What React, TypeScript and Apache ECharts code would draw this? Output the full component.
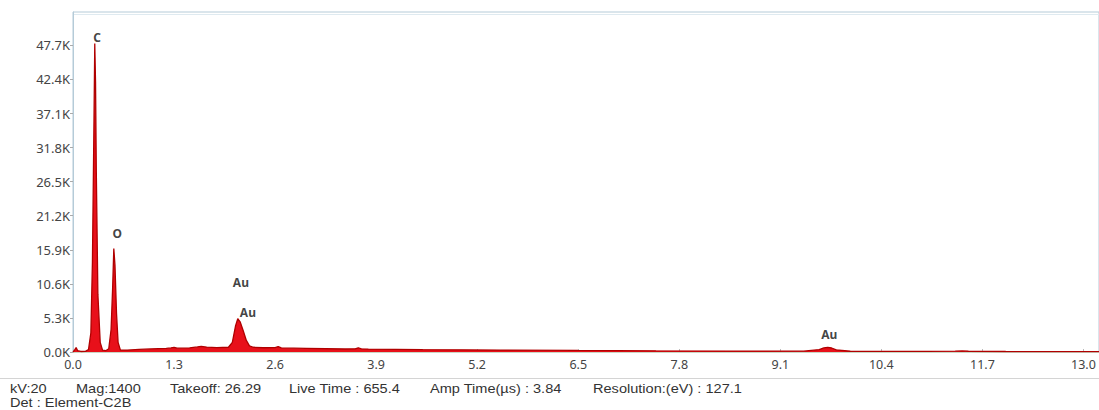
import React, { useEffect, useRef } from "react";
import * as echarts from "echarts";

// EDS spectrum: energy (keV) and counts
const energy = [
  0.0, 0.02, 0.04, 0.06, 0.1, 0.16, 0.2, 0.23, 0.25, 0.27, 0.28, 0.29, 0.3, 0.32, 0.35, 0.38,
  0.42, 0.46, 0.49, 0.51, 0.525, 0.54, 0.56, 0.58, 0.61, 0.7, 0.85, 1.0, 1.2, 1.26, 1.3, 1.34,
  1.5, 1.6, 1.65, 1.72, 1.85, 2.0, 2.05, 2.09, 2.12, 2.15, 2.19, 2.23, 2.27, 2.32, 2.45, 2.6,
  2.64, 2.68, 3.0, 3.5, 3.63, 3.67, 3.71, 3.8, 4.5, 5.5, 6.5, 7.5, 8.5, 9.4, 9.6, 9.66, 9.71,
  9.76, 9.82, 10.0, 11.0, 11.35, 11.44, 11.52, 12.0, 13.2,
];
const counts = [
  0, 300, 700, 200, 80, 100, 400, 3000, 14000, 36000, 48000, 42000, 28000, 9000, 1500, 300,
  200, 500, 3500, 10000, 16100, 13500, 6000, 1500, 300, 300, 400, 480, 560, 640, 720, 600,
  640, 790, 870, 760, 680, 740, 1500, 4000, 5200, 4700, 3300, 1800, 950, 740, 660, 680,
  840, 640, 560, 470, 500, 660, 490, 460, 380, 300, 240, 185, 150, 130, 380, 640, 720,
  620, 340, 120, 95, 130, 170, 120, 75, 50,
];

// Peak identifications: [energy, counts] of the label centre
const peakNames = ["C", "O", "Au", "Au", "Au"];
const peakEnergy = [0.31, 0.57, 2.16, 2.25, 9.73];
const peakCounts = [48900, 18400, 10800, 6100, 2650];

// Acquisition parameters printed under the spectrum
const infoLabels = [
  "kV:20",
  "Mag:1400",
  "Takeoff: 26.29",
  "Live Time : 655.4",
  "Amp Time(\u00b5s) : 3.84",
  "Resolution:(eV) : 127.1",
];
const infoX = [10, 76, 170, 289, 430, 593];
const detectorLabel = "Det : Element-C2B";

export default function App() {
  const ref = useRef<HTMLDivElement>(null);

  useEffect(() => {
    if (!ref.current) return;
    const chart = echarts.init(ref.current, undefined, { renderer: "svg" });
    const font = "'Noto Sans', 'Open Sans', sans-serif";
    const infoFont = "13px 'Liberation Sans', Arial, sans-serif";

    const spectrum = energy.map((e, i) => [e, counts[i]]);
    const peaks = peakNames.map((n, i) => ({ name: n, value: [peakEnergy[i], peakCounts[i]] }));

    const infoText = (text: string, x: number, y: number) => ({
      type: "text",
      x,
      y,
      scaleX: 1.12,
      style: { text, fill: "#333", font: infoFont, verticalAlign: "middle", align: "left" },
    });

    const graphics: any[] = [
      {
        type: "line",
        shape: { x1: 0, y1: 378.5, x2: 1099, y2: 378.5 },
        style: { stroke: "#d4d4d4", lineWidth: 1 },
        silent: true,
      },
      {
        type: "line",
        shape: { x1: 73, y1: 14.5, x2: 1099, y2: 14.5 },
        style: { stroke: "#dfeaf0", lineWidth: 1 },
        silent: true,
      },
      ...infoLabels.map((t, i) => infoText(t, infoX[i], 389)),
      infoText(detectorLabel, 10, 403),
    ];

    chart.setOption({
      animation: false,
      backgroundColor: "#fff",
      grid: {
        left: 73,
        right: 0,
        top: 12,
        bottom: 58,
        show: true,
        borderColor: "#b5cbd8",
        borderWidth: 1,
      },
      xAxis: {
        type: "value",
        min: 0,
        max: 13.2,
        interval: 1.3,
        splitLine: { show: false },
        axisLine: { show: true, onZero: false, lineStyle: { color: "#c9d6c4" } },
        axisTick: { show: true, inside: true, length: 3, lineStyle: { color: "#bbb" } },
        axisLabel: {
          showMaxLabel: false,
          color: "#444",
          fontSize: 12.5,
          fontFamily: font,
          margin: 6,
          formatter: (v: number) => v.toFixed(1),
        },
      },
      yAxis: {
        type: "value",
        min: 0,
        max: 52900,
        interval: 5300,
        splitLine: { show: false },
        axisLine: { show: true, lineStyle: { color: "#b5cbd8" } },
        axisTick: { show: true, length: 3, lineStyle: { color: "#aaa" } },
        axisLabel: {
          showMaxLabel: false,
          color: "#444",
          fontSize: 13,
          fontFamily: font,
          margin: 3,
          formatter: (v: number) => (v / 1000).toFixed(1) + "K",
        },
      },
      series: [
        {
          type: "line",
          data: spectrum,
          showSymbol: false,
          smooth: false,
          lineStyle: { color: "#b00000", width: 1.3 },
          areaStyle: { color: "#e8101a", opacity: 1 },
          z: 2,
        },
        {
          type: "scatter",
          data: peaks,
          symbolSize: 1,
          itemStyle: { color: "rgba(0,0,0,0)" },
          label: {
            show: true,
            position: "inside",
            formatter: (p: any) => p.name,
            color: "#111",
            fontSize: 12,
            fontWeight: "bold",
            fontFamily: font,
          },
          z: 3,
        },
      ],
      graphic: graphics,
    });

    return () => chart.dispose();
  }, []);

  return (
    <div
      ref={ref}
      style={{ position: "absolute", left: 0, top: 0, width: 1099, height: 410 }}
    />
  );
}
